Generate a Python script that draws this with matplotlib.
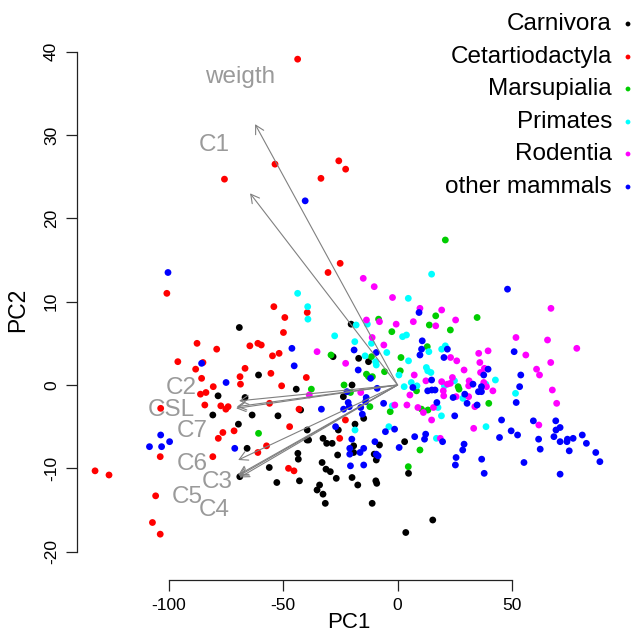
import numpy as np
import matplotlib.pyplot as plt

plt.rcParams['font.family'] = ['Liberation Sans', 'DejaVu Sans']
plt.rcParams['axes.unicode_minus'] = False

# PCA scores by group (PC1, PC2)
carnivora_pc1 = [-20.3, -28.2, -17.0, -12.7, -44.3, -19.9, -23.7, -69.2, -60.8, -78.5, -66.7,
                 -80.8, -63.6, -69.6, -65.8, -69.0, -52.3, -42.4, -14.8, -18.6, -25.9, -39.5,
                 -39.6, -38.9, -32.6, -31.0, -28.6, -19.2, -7.9, -19.2, -10.2, -9.3, -26.2,
                 -43.6, -43.4, -33.0, -31.3, -29.4, -56.1, -52.8, -42.9, -26.8, -19.9, -17.4,
                 -9.5, -9.1, -34.1, -35.2, -32.6, -31.6, -11.1, 15.4, 3.6, 4.8, 3.1]
carnivora_pc2 = [7.3, 3.4, 3.2, 2.8, -0.5, 0.0, -1.4, 6.9, 1.2, -1.3, -1.5,
                 -3.6, -3.6, -4.7, -7.6, -11.0, -3.7, -3.0, -4.0, -4.7, -5.4, -5.4,
                 -6.6, -6.6, -6.4, -7.0, -7.0, -7.3, -7.2, -8.1, -8.3, -9.0, -8.4,
                 -8.2, -8.9, -9.3, -10.1, -10.4, -9.9, -11.7, -11.5, -11.2, -11.1, -12.0,
                 -11.5, -11.8, -12.0, -12.6, -13.1, -14.2, -14.2, -16.2, -17.7, -10.6, -6.8]

cetart_pc1 = [-43.7, -53.6, -75.7, -25.7, -22.7, -33.5, -25.1, -30.4, -100.9, -39.5, -54.1, -49.3,
              -49.9, -54.7, -51.8, -55.4, -39.9, -50.7,
              -87.7, -79.1, -64.6, -61.1, -59.6, -96.1, -85.1, -88.3, -66.7, -85.7, -80.6,
              -68.9, -68.7, -86.2, -83.8,
              -103.6, -84.3, -77.3, -75.1, -74.1, -76.4, -78.4, -71.5, -103.8, -61.1, -57.3,
              -80.8, -132.3, -126.2, -105.8, -107.2, -103.8,
              -56.0, -43.1, -47.2, -22.8, -25.3, -47.7, -45.3]
cetart_pc2 = [39.1, 26.5, 24.7, 26.9, 25.9, 24.8, 14.6, 13.5, 11.0, 8.7, 9.4, 8.1,
              6.3, 3.5, 3.8, 1.4, 0.9, -0.1,
              5.0, 4.3, 4.7, 5.0, 4.8, 2.8, 2.7, 1.9, 2.0, 0.8, -0.2,
              1.0, 0.1, -1.1, -0.9,
              -2.8, -2.4, -2.5, -2.9, -2.6, -5.7, -6.4, -5.5, -8.6, -8.1, -7.3,
              -8.6, -10.3, -10.8, -13.3, -16.5, -17.9,
              -2.2, -2.9, -5.0, -4.2, -6.4, -10.0, -10.3]

marsup_pc1 = [20.9, 16.7, -8.3, 13.9, -2.5, 13.0, -29.1, -11.4, 1.5, -5.7, 1.2, -13.6, -12.7,
              -11.0, -37.7, -23.4, -20.6, 8.3, 34.8, 23.1, 26.5, 26.9, 39.9, -3.2, 10.5,
              13.3, 9.8, 4.7, -12.1, -60.8]
marsup_pc2 = [17.4, 8.3, 7.9, 7.2, 6.4, 4.6, 3.6, 3.4, 3.3, 1.6, 1.7, 1.3, 1.0,
              1.0, -0.5, 0.0, -0.9, -0.7, 8.1, 6.6, -0.2, -0.5, -2.2, -3.2, -2.9,
              -3.0, -7.8, -9.8, -2.6, -5.8]

primates_pc1 = [4.7, 14.9, -43.7, -39.3, -39.2, -18.1, -13.2, 2.2, 3.9, -27.5, 13.7, 19.3, 20.9,
                -11.4, -4.7, -18.7, -14.2, -9.6, -9.3, 4.8, 0.6, 12.6, 13.2, 14.6, 2.9, 6.0,
                8.5, 20.5, 42.8, 38.6, 24.9, 28.6, 51.6, 38.7, -2.3, 17.7, 19.2, -3.8, 17.0,
                -18.6]
primates_pc2 = [10.4, 13.3, 11.0, 9.4, 7.9, 7.2, 7.3, 5.8, 6.0, 5.9, 4.0, 4.3, 4.7,
                5.0, 3.9, 5.2, 3.5, 2.8, 2.4, 2.9, 1.2, 2.1, 1.7, 1.5, -0.2, 0.3,
                -0.1, -0.1, 0.6, 0.1, 0.5, -1.6, -1.0, -5.0, -2.5, -2.7, -3.7, -5.0, -6.4,
                -5.4]

rodentia_pc1 = [-15.0, -10.2, -2.2, 9.8, 19.3, -13.6, -7.9, -0.6, 6.9, 16.7, -11.1, -6.0, -35.2,
                -22.7, 7.3, 19.3, -38.6, -16.1, 5.4, 12.4, 20.0, 20.2, 21.8,
                67.1, 25.4, 51.8, 65.6, 78.4, 56.1, 39.6, 35.5, 23.2, 25.9, 36.0, 67.0, 60.8,
                62.1, 67.7, 29.1, 38.0, 36.3, 37.7, 38.9, 41.7, 31.3, 31.1, 24.0, 23.1, 25.6,
                31.1, 33.3, 69.6, 33.8, 61.8, 4.1, 8.9, 11.3, 15.7, 14.9, 18.7, -1.2]
rodentia_pc2 = [12.8, 11.8, 10.5, 9.2, 9.0, 7.8, 7.6, 7.3, 7.6, 7.1, 5.7, 4.8, 4.0,
                2.6, 1.2, 0.4, -1.2, -0.9, -1.2, 0.5, -0.7, -1.3, 0.1,
                9.2, 7.8, 5.7, 5.4, 4.4, 3.6, 4.1, 3.8, 3.3, 2.9, 2.7, 2.7, 1.9,
                1.2, -0.6, 1.8, 2.0, 1.5, 0.3, -0.2, -0.7, 0.5, -0.1, 0.9, 0.2, -1.4,
                -1.4, -5.2, -2.2, -2.6, -4.8, -2.4, -2.7, -3.3, -2.7, -4.2, -6.4, -2.4]

other_pc1 = [-40.4, -100.4, 9.4, 10.8, 10.5, 21.8, 9.8, 20.3, -9.3, -46.2, -19.0, -45.2, -17.2,
             14.9, -11.8, -8.9, -22.1, -13.7, 6.7, 13.2, 15.0, 16.4,
             48.1, 51.0, 53.9, 53.4, 39.6, 37.7, 36.7, 35.4, 36.7, 33.0, 29.4, 24.3,
             25.0, 51.9, 34.8, 30.4, 45.5, 59.4, 69.2, 71.1, 69.3, 68.4, 49.7, 52.5, 44.6,
             61.7, 62.4, 71.1, 74.1, 74.3, 76.8, 80.8, 82.6, 75.1, 86.7, 88.5, 29.1, 28.5,
             25.6, 25.3, 36.8, 55.3, 37.9, 71.1,
             -6.1, 17.2, -5.3, -1.3, 7.5, 12.3, 11.8, 19.7, 0.7,
             -33.3, -23.6, -21.1, -21.6, -16.1, -14.0, -15.4, -27.1, -20.0, -20.9, -14.8,
             -16.4, -20.9, -9.9, -8.5, -9.3, -20.6, -14.8,
             -103.6, -99.7, -103.2, -108.5, -71.2, -85.7, -75.0]
other_pc2 = [22.1, 13.5, 8.7, 5.3, 4.3, 4.3, 3.6, 3.3, 3.9, 4.4, 4.2, 2.3, 1.8,
             0.6, 0.8, -0.4, -0.8, -1.5, -0.3, -0.7, -0.6, -0.6,
             11.5, 4.0, 1.2, -0.2, 1.9, 1.2, -0.2, -0.8, -0.8, 0.1, -1.1, -1.5,
             -3.7, -2.1, -2.4, -2.2, -4.2, -4.3, -4.3, -5.1, -5.4, -6.2, -5.5, -6.0, -6.3,
             -6.5, -7.7, -6.8, -6.8, -6.5, -6.4, -6.0, -7.0, -7.9, -8.1, -9.2, -7.1, -7.8,
             -8.7, -9.6, -8.9, -9.3, -10.6, -10.7,
             -2.2, -2.1, -5.6, -5.3, -6.2, -5.9, -6.5, -6.8, -7.5,
             -2.9, -2.9, -2.6, -2.1, -2.7, -2.0, -3.5, -5.0, -6.5, -7.6, -7.6,
             -8.1, -8.3, -6.8, -8.5, -8.3, -9.7, -9.6,
             -6.0, -6.8, -7.4, -7.4, -7.6, 2.6, 0.3]

groups = ['Carnivora', 'Cetartiodactyla', 'Marsupialia', 'Primates', 'Rodentia', 'other mammals']
group_pc1 = [carnivora_pc1, cetart_pc1, marsup_pc1, primates_pc1, rodentia_pc1, other_pc1]
group_pc2 = [carnivora_pc2, cetart_pc2, marsup_pc2, primates_pc2, rodentia_pc2, other_pc2]
colors = ['#000000', '#FF0000', '#00CD00', '#00FFFF', '#FF00FF', '#0000FF']

# loadings (arrow tips) and label spots
var_names = ['weigth', 'C1', 'C2', 'CSL', 'C7', 'C6', 'C3', 'C5', 'C4']
arrow_pc1 = [-62.3, -64.5, -69.3, -70.6, -70.3, -69.7, -69.7, -69.4, -69.1]
arrow_pc2 = [31.3, 23.0, -1.9, -2.8, -2.6, -9.0, -10.8, -10.9, -11.1]
label_pc1 = [-68.9, -80.3, -94.7, -99.0, -90.0, -90.0, -79.0, -92.0, -80.0]
label_pc2 = [36.9, 28.8, -0.4, -3.0, -5.5, -9.5, -11.6, -13.4, -15.0]

fig = plt.figure(figsize=(6.36, 6.38), dpi=100)
ax = fig.add_axes([77/636, 58/638, 543/636, 540/638])

for xs, ys, c in zip(group_pc1, group_pc2, colors):
    ax.scatter(xs, ys, s=24, color=c, edgecolors='none', zorder=2)

for x, y in zip(arrow_pc1, arrow_pc2):
    ax.annotate('', xy=(x, y), xytext=(0, 0),
                arrowprops=dict(arrowstyle='->,head_length=0.6,head_width=0.33',
                                color='#808080', lw=0.8, shrinkA=0, shrinkB=0,
                                mutation_scale=10), zorder=3)
for name, x, y in zip(var_names, label_pc1, label_pc2):
    ax.text(x, y, name, color='#9a9a9a', fontsize=17.5, ha='center', va='center', zorder=4)

ax.set_xlim(-140.2, 97.3)
ax.set_ylim(-23.4, 41.4)
ax.set_xticks([-100, -50, 0, 50])
ax.set_yticks([-20, -10, 0, 10, 20, 30, 40])
for s in ['top', 'right']:
    ax.spines[s].set_visible(False)
ax.spines['bottom'].set_bounds(-100, 50)
ax.spines['left'].set_bounds(-20, 40)
for s in ['bottom', 'left']:
    ax.spines[s].set_linewidth(0.9)
    ax.spines[s].set_color('#222222')
ax.tick_params(direction='out', length=8, width=0.9, color='#222222', labelsize=12.5, pad=5)
plt.setp(ax.get_yticklabels(), rotation=90, va='center')
ax.set_xlabel('PC1', fontsize=16)
ax.set_ylabel('PC2', fontsize=16.5)
ax.xaxis.set_label_coords(0.5, -0.06)
ax.yaxis.set_label_coords(-0.088, 0.5)

# legend, top right, no box
leg_y = [24, 57, 89, 122, 154, 187]
for name, c, yp in zip(groups, colors, leg_y):
    fig.text(612/636, 1 - yp/638, name, fontsize=17.5, ha='right', va='center')
    ax.scatter([628/636], [1 - yp/638], s=12, color=c, edgecolors='none',
               transform=fig.transFigure, clip_on=False)

fig.savefig('out.png', dpi=100)
